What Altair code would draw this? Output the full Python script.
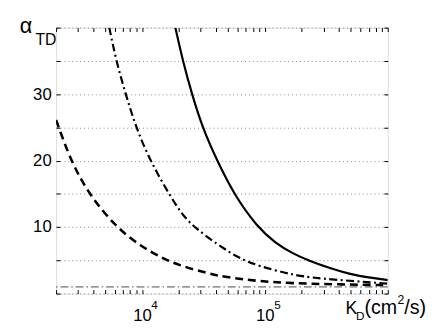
import altair as alt
import pandas as pd

# values (K_D in cm^2/s, alpha_TD)
solid_k = [18700, 21500, 25500, 31000, 40800, 56500, 86900, 121900, 165600, 224900, 335700, 485300, 701500, 1000000]
solid_a = [40, 35, 30, 25, 20, 14.8, 10, 7.6, 6.1, 5.0, 3.85, 2.95, 2.4, 2.03]

dashdot_k = [5420, 6170, 7360, 8950, 11590, 19320, 26000, 48530, 61660, 89540, 165600, 254100, 1000000]
dashdot_a = [40, 35, 30, 25, 20, 12.8, 10, 6.5, 5.35, 4.1, 2.85, 2.3, 1.5]

dashed_k = [2000, 2630, 3680, 6120, 10000, 15100, 20510, 35650, 48530, 89540, 165600, 398100, 1000000]
dashed_a = [26.1, 20, 15, 10, 7.0, 5.2, 4.2, 2.95, 2.46, 1.85, 1.55, 1.38, 1.27]

ref_level = [1]
x_domain = [2000, 1000000]
y_domain = [0, 40]
major_x = [10000, 100000]
major_x_exp = ["4", "5"]
minor_x = [2000, 3000, 4000, 5000, 6000, 7000, 8000, 9000,
           10000, 20000, 30000, 40000, 50000, 60000, 70000, 80000, 90000,
           100000, 200000, 300000, 400000, 500000, 600000, 700000, 800000, 900000, 1000000]
y_ticks = [0, 5, 10, 15, 20, 25, 30, 35, 40]

W, H = 338, 271
FONT = "Liberation Sans"

xs = alt.Scale(type="log", domain=x_domain, nice=False)
ys = alt.Scale(domain=y_domain, nice=False, zero=False)

df_solid = pd.DataFrame({"k": solid_k, "a": solid_a})
df_dd = pd.DataFrame({"k": dashdot_k, "a": dashdot_a})
df_dash = pd.DataFrame({"k": dashed_k, "a": dashed_a})
df_ref = pd.DataFrame({"a": ref_level})
df_exp = pd.DataFrame({"k": major_x, "e": major_x_exp})

tick_common = dict(labels=False, ticks=True, tickSize=4, tickColor="black", tickWidth=1,
                   domain=False, grid=False, title=None)

ax_x_main = alt.Axis(orient="bottom", values=major_x, labelExpr="'10'", ticks=False, domain=False,
                     grid=False, labelFontSize=17, labelFont=FONT, labelColor="black",
                     labelBaseline="alphabetic", labelPadding=27, title=None)
ax_y_main = alt.Axis(orient="left", values=y_ticks,
                     labelExpr="(datum.value==10||datum.value==20||datum.value==30) ? datum.label : ''",
                     ticks=False, domain=False, grid=True, gridDash=[1, 3], gridColor="#8a8a8a",
                     gridWidth=1, labelFontSize=17, labelFont=FONT, labelColor="black",
                     labelPadding=5, title=None)

ax_x_bot_in = alt.Axis(orient="top", offset=-H, values=minor_x, **tick_common)
ax_x_top_in = alt.Axis(orient="bottom", offset=-H, values=minor_x, **tick_common)
ax_y_left_in = alt.Axis(orient="right", offset=-W, values=y_ticks, **tick_common)
ax_y_right_in = alt.Axis(orient="left", offset=-W, values=y_ticks, **tick_common)

solid = alt.Chart(df_solid).mark_line(color="black", strokeWidth=2.2, interpolate="basis", clip=True).encode(
    x=alt.X("k:Q", scale=xs, axis=ax_x_main),
    y=alt.Y("a:Q", scale=ys, axis=ax_y_main),
)
dashdot = alt.Chart(df_dd).mark_line(color="black", strokeWidth=2.2, strokeDash=[8, 3.5, 2, 3.5],
                                     interpolate="basis", clip=True).encode(
    x=alt.X("k:Q", scale=xs, axis=ax_x_bot_in),
    y=alt.Y("a:Q", scale=ys, axis=ax_y_left_in),
)
dashed = alt.Chart(df_dash).mark_line(color="black", strokeWidth=2.6, strokeDash=[8, 5],
                                      interpolate="basis", clip=True).encode(
    x=alt.X("k:Q", scale=xs, axis=ax_x_top_in),
    y=alt.Y("a:Q", scale=ys, axis=ax_y_right_in),
)
ref = alt.Chart(df_ref).mark_rule(color="#333333", strokeWidth=0.9, strokeDash=[8, 3, 1.5, 3]).encode(
    y=alt.Y("a:Q", scale=ys, axis=None),
)
exps = alt.Chart(df_exp).mark_text(align="left", baseline="alphabetic", fontSize=12, font=FONT,
                                   color="black", dx=9.5).encode(
    x=alt.X("k:Q", scale=xs, axis=None),
    y=alt.value(287),
    text="e:N",
)


def label(txt, x, y, size):
    return alt.Chart(pd.DataFrame({"t": [txt]})).mark_text(
        align="left", baseline="alphabetic", fontSize=size, font=FONT, color="black"
    ).encode(x=alt.value(x), y=alt.value(y), text="t:N")


title_parts = [
    label("α", -37, 5, 22),
    label("TD", -21, 18, 16),
    label("K", 295, 291.7, 18),
    label("D", 305.7, 298.3, 12),
    label("(cm", 314.2, 291.7, 20),
    label("2", 347.8, 281.7, 12.5),
    label("/s)", 354.8, 291.7, 20),
]

chart = alt.layer(solid, dashdot, dashed, ref, exps, *title_parts).resolve_axis(
    x="independent", y="independent"
).properties(
    width=W, height=H,
    autosize=alt.AutoSizeParams(type="none"),
    padding={"left": 49, "top": 17, "right": 41, "bottom": 29},
).configure_view(
    stroke="#333333", strokeWidth=1.2
).configure(font=FONT)

chart.save("out.html", embed_options={"renderer": "svg", "actions": False})
